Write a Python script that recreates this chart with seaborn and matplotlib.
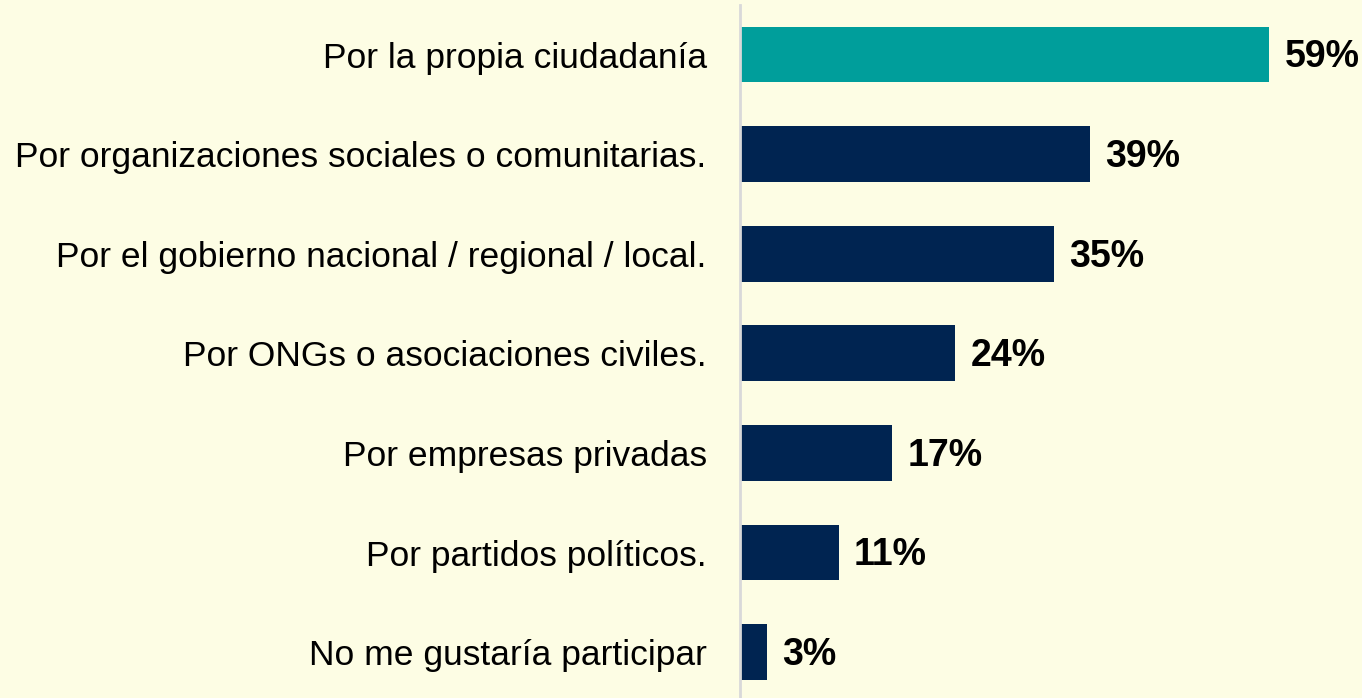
import matplotlib
matplotlib.use("Agg")
import matplotlib.pyplot as plt
import seaborn as sns
import pandas as pd

categories = [
    "Por la propia ciudadanía",
    "Por organizaciones sociales o comunitarias.",
    "Por el gobierno nacional / regional / local.",
    "Por ONGs o asociaciones civiles.",
    "Por empresas privadas",
    "Por partidos políticos.",
    "No me gustaría participar",
]
values = [59, 39, 35, 24, 17, 11, 3]
value_labels = ["59%", "39%", "35%", "24%", "17%", "11%", "3%"]

bg = "#FDFDE4"
colors = ["#009E9B"] + ["#002451"] * 6

sns.set_theme(style="white")
plt.rcParams["font.family"] = ["Liberation Sans", "DejaVu Sans"]

df = pd.DataFrame({"cat": categories, "val": values})

fig = plt.figure(figsize=(13.62, 6.98), dpi=100)
fig.patch.set_facecolor(bg)
ax = fig.add_axes([740 / 1362, 0, 622 / 1362, 693 / 698])
ax.set_facecolor(bg)

sns.barplot(data=df, x="val", y="cat", hue="cat", palette=colors, legend=False,
            width=0.56, ax=ax, orient="h", saturation=1, linewidth=0)

ax.set_xlim(0, 622 / 8.97)
ax.set_ylim(6.46, -0.497)
ax.set_xlabel("")
ax.set_ylabel("")
ax.set_xticks([])
for s in ["top", "right", "bottom"]:
    ax.spines[s].set_visible(False)
ax.spines["left"].set_color("#D9D9D9")
ax.spines["left"].set_linewidth(2)
ax.tick_params(axis="y", length=0, pad=24, labelsize=25.5, labelcolor="black")

for i, (v, lab) in enumerate(zip(values, value_labels)):
    ax.annotate(lab, (v, i), xytext=(11, -2), textcoords="offset points",
                ha="left", va="center", fontsize=27, fontweight="bold", color="black")

fig.savefig("out.png", dpi=100, facecolor=bg)
